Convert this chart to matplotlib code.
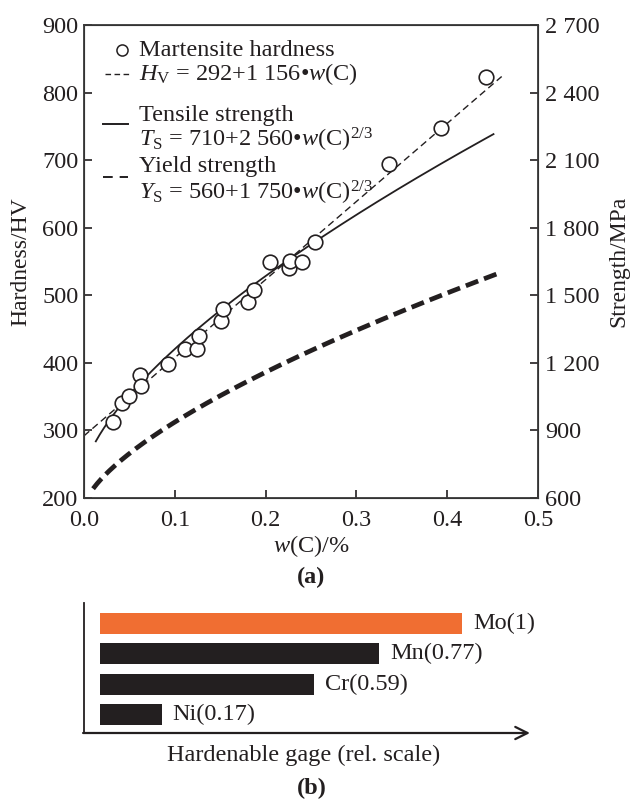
import numpy as np
import matplotlib
matplotlib.use("Agg")
import matplotlib.pyplot as plt
from matplotlib.ticker import FixedLocator, FuncFormatter

plt.rcParams['font.family'] = ['Liberation Serif', 'DejaVu Serif']
plt.rcParams['mathtext.fontset'] = 'custom'
plt.rcParams['mathtext.rm'] = 'Liberation Serif'
plt.rcParams['mathtext.it'] = 'Liberation Serif:italic'
plt.rcParams['mathtext.bf'] = 'Liberation Serif:bold'
plt.rcParams['lines.scale_dashes'] = False

# Martensite hardness measurements: carbon content (wt.%) and Vickers hardness
carbon_pct = [0.032, 0.042, 0.050, 0.062, 0.063, 0.093, 0.111, 0.124, 0.127,
              0.151, 0.153, 0.181, 0.187, 0.205, 0.226, 0.227, 0.240, 0.254,
              0.336, 0.393, 0.443]
hardness_hv = [312, 341, 351, 382, 366, 398, 421, 420, 440,
               462, 480, 490, 508, 549, 541, 551, 549, 579,
               694, 747, 823]

# Fitted relations quoted in the legend
hv_intercept, hv_slope = 292, 1156          # HV = a + b*w
ts_intercept, ts_coef = 710, 2560           # TS = a + b*w^(2/3), MPa
ys_intercept, ys_coef = 560, 1750           # YS = a + b*w^(2/3), MPa
hv_range = (0.0, 0.46)
ts_range = (0.013, 0.451)
ys_range = (0.010, 0.455)

# Relative hardenability of alloying elements
elements = ['Mo', 'Mn', 'Cr', 'Ni']
hardenability = [1, 0.77, 0.59, 0.17]
bar_colors = ['#F06E32', '#231F20', '#231F20', '#231F20']

hv_ticks = [200, 300, 400, 500, 600, 700, 800, 900]
strength_ticks = [600, 900, 1200, 1500, 1800, 2100, 2400, 2700]
w_ticks = [0.0, 0.1, 0.2, 0.3, 0.4, 0.5]

FS = 17.5
INK = '#231F20'


def grouped(v):
    return f"{v:,}".replace(',', ' ')


W, H = 630, 800
fig = plt.figure(figsize=(W / 100, H / 100), dpi=100)

# ---------------- (a) hardness / strength vs carbon ----------------
ax = fig.add_axes([84 / W, 1 - 498 / H, 454 / W, 473 / H])
ax.set_xlim(0, 0.5)
ax.set_ylim(hv_ticks[0], hv_ticks[-1])
ax.xaxis.set_major_locator(FixedLocator(w_ticks))
ax.yaxis.set_major_locator(FixedLocator(hv_ticks))
ax.xaxis.set_major_formatter(FuncFormatter(lambda v, p: f"{v:.1f}"))
ax.tick_params(direction='in', length=6, width=1.2, labelsize=FS, colors=INK,
               top=False, right=False)
ax.tick_params(axis='y', pad=4)
ax.tick_params(axis='x', pad=9)
for s in ax.spines.values():
    s.set_linewidth(1.3)
    s.set_color('#3a3a3a')

ax2 = ax.twinx()
ax2.set_ylim(strength_ticks[0], strength_ticks[-1])
ax2.yaxis.set_major_locator(FixedLocator(strength_ticks))
ax2.yaxis.set_major_formatter(FuncFormatter(lambda v, p: grouped(int(v))))
ax2.tick_params(direction='in', length=6, width=1.2, labelsize=FS, colors=INK, pad=5)

# fitted lines
w_hv = np.linspace(*hv_range, 100)
ax.plot(w_hv, hv_intercept + hv_slope * w_hv, color=INK, lw=1.0,
        dashes=(5, 3), zorder=2)
w_ts = np.linspace(*ts_range, 200)
ax2.plot(w_ts, ts_intercept + ts_coef * w_ts ** (2 / 3), color=INK, lw=1.3, zorder=2)
w_ys = np.linspace(*ys_range, 200)
ax2.plot(w_ys, ys_intercept + ys_coef * w_ys ** (2 / 3), color=INK, lw=3.4,
         dashes=(9.5, 4.5), zorder=2)

# measured hardness
ax2.set_zorder(ax.get_zorder() - 1)
ax.patch.set_visible(False)
ax.plot(carbon_pct, hardness_hv, 'o', ms=10.5, mfc='white', mec=INK, mew=1.2,
        zorder=3)

ax.set_ylabel('Hardness/HV', fontsize=17, color=INK, labelpad=8)
ax2.set_ylabel('Strength/MPa', fontsize=17, color=INK, labelpad=6)
ax.set_xlabel('$w$(C)/%', fontsize=FS, color=INK, labelpad=1)

# legend block
tx = 0.121
ax.plot([0.084], [0.947], 'o', ms=8, mfc='white', mec=INK, mew=1.1,
        transform=ax.transAxes, clip_on=False)
ax.plot([0.046, 0.106], [0.897, 0.897], color=INK, lw=1.0, dashes=(4, 2.5),
        transform=ax.transAxes)
ax.plot([0.042, 0.097], [0.791, 0.791], color=INK, lw=1.4, transform=ax.transAxes)
ax.plot([0.042, 0.097], [0.679, 0.679], color=INK, lw=1.4, dashes=(7, 5),
        transform=ax.transAxes)
legend_lines = [
    (0.947, 'Martensite hardness'),
    (0.896, r'$H_\mathrm{V}$' + f' = {hv_intercept}+{grouped(hv_slope)}•' + r'$w$(C)'),
    (0.808, 'Tensile strength'),
    (0.757, r'$T_\mathrm{S}$' + f' = {ts_intercept}+{grouped(ts_coef)}•' + r'$w$(C)$^{2/3}$'),
    (0.700, 'Yield strength'),
    (0.645, r'$Y_\mathrm{S}$' + f' = {ys_intercept}+{grouped(ys_coef)}•' + r'$w$(C)$^{2/3}$'),
]
for yy, s in legend_lines:
    ax.text(tx, yy, s, transform=ax.transAxes, fontsize=FS, color=INK,
            va='center', ha='left')

fig.text(311 / W, 1 - 577 / H, '(a)', fontsize=FS, fontweight='bold',
         ha='center', va='center', color=INK)

# ---------------- (b) hardenability bars ----------------
bx = fig.add_axes([84 / W, 1 - 733 / H, 456 / W, 130 / H])
unit_px = 362.0
bx.set_xlim(0, 456 / unit_px)
bx.set_ylim(-0.61, 3.68)
bar_left = 16 / unit_px
ypos = np.arange(len(elements))[::-1]
bx.barh(ypos, hardenability, left=bar_left, height=0.69, color=bar_colors)
for y, name, val in zip(ypos, elements, hardenability):
    bx.annotate(f"{name}({val:g})", (bar_left + val, y), xytext=(8, 0),
                textcoords='offset points', fontsize=FS, color=INK,
                va='center', ha='left')
for s in bx.spines.values():
    s.set_visible(False)
bx.set_xticks([])
bx.set_yticks([])
bx.plot([0, 0], [0, 1], color=INK, lw=1.3, transform=bx.transAxes, clip_on=False)
bx.annotate('', xy=(0.978, 0), xytext=(-0.002, 0), xycoords='axes fraction',
            arrowprops=dict(arrowstyle='->', color=INK, lw=1.6,
                            mutation_scale=22, shrinkA=0, shrinkB=0))

fig.text(304 / W, 1 - 755 / H, 'Hardenable gage (rel. scale)', fontsize=FS,
         ha='center', va='center', color=INK)
fig.text(312 / W, 1 - 788 / H, '(b)', fontsize=FS, fontweight='bold',
         ha='center', va='center', color=INK)

fig.savefig('out.png', dpi=100)
